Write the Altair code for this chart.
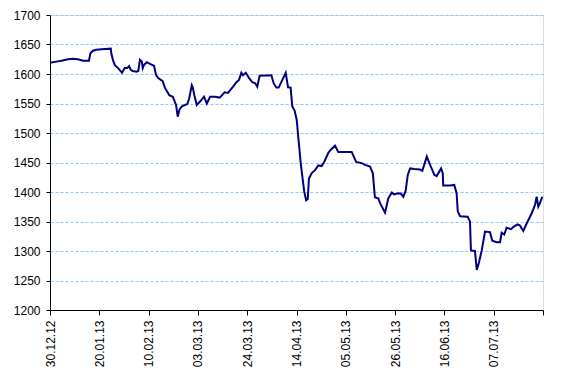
import altair as alt
import pandas as pd

# day offsets from 30.12.2012 and price values
day_offsets = [0.0, 2.7, 4.8, 7.7, 9.8, 11.9, 14.1, 16.6, 17.2, 18.3, 19.7, 21.9,
               25.9, 26.1, 26.8, 27.6, 29.0, 30.7, 31.8, 32.9, 33.7, 34.4, 35.2,
               36.9, 37.6, 38.3, 39.1, 39.5, 40.0, 41.2, 42.6, 44.3, 45.2, 46.1,
               48.0, 49.0, 50.1, 50.8, 52.3, 53.7, 54.4, 55.1, 56.1, 57.5, 58.5,
               59.3, 60.4, 60.8, 61.5, 62.5, 64.3, 65.6, 66.8, 68.2, 70.3, 72.3,
               74.4, 75.8, 78.0, 79.4, 80.5, 81.5, 82.2, 83.4, 84.8, 86.2, 87.5,
               88.3, 89.3, 94.3, 95.3, 96.4, 97.4, 100.4, 101.4, 102.5, 103.2,
               104.2, 105.1, 105.8, 106.8, 107.5, 108.3, 109.1, 109.8, 110.3,
               111.5, 112.9, 114.3, 115.7, 116.8, 118.6, 119.7, 121.4, 122.8,
               128.5, 130.4, 132.8, 134.2, 136.3, 137.5, 138.4, 139.9, 140.6,
               142.7, 144.1, 145.6, 146.5, 148.4, 149.5, 150.5, 151.5, 152.4,
               153.4, 155.2, 157.6, 158.6, 160.5, 161.9, 163.7, 164.7, 166.6,
               167.3, 167.5, 170.4, 172.2, 173.2, 173.7, 174.7, 177.9, 178.9,
               179.3, 181.0, 181.8, 182.7, 183.9, 185.3, 187.4, 188.4, 190.3,
               191.7, 192.4, 193.5, 194.5, 196.4, 197.4, 199.2, 200.2, 201.6,
               203.1, 205.2, 206.6, 207.3, 208.0, 208.7, 209.7]
prices = [1619, 1621, 1622.5, 1625, 1626, 1625, 1622.5, 1622.5, 1635, 1639.5, 1641, 1642,
          1643, 1635, 1624, 1615, 1610, 1602, 1610, 1610, 1613.5, 1607, 1605,
          1604, 1605, 1624, 1621, 1610, 1615, 1620, 1617, 1614, 1598, 1593,
          1588, 1576, 1569, 1564, 1561.5, 1547.5, 1527.6, 1539, 1545, 1547.5, 1549,
          1559, 1581, 1577.5, 1564, 1547.5, 1555, 1561.5, 1550, 1561.5, 1561.5, 1560,
          1569, 1568, 1578.5, 1586, 1590, 1602, 1598, 1602, 1593, 1586, 1584,
          1578.5, 1597, 1598, 1584, 1577, 1577, 1602, 1577.5, 1577, 1545,
          1538, 1522, 1491, 1449, 1426, 1400.5, 1386, 1388, 1423,
          1432, 1437, 1445, 1444, 1451, 1467, 1472, 1478.5, 1468,
          1468, 1451, 1449, 1446, 1443, 1432, 1391, 1389, 1381,
          1365, 1389, 1399, 1396, 1398, 1397, 1392, 1402, 1429,
          1440, 1439, 1438, 1436, 1460, 1446, 1429, 1427, 1440,
          1432, 1411, 1411, 1412, 1398, 1367, 1359, 1358, 1350,
          1301, 1300, 1268, 1280, 1301, 1333, 1332, 1317.5, 1315,
          1315, 1331, 1328, 1339.5, 1337, 1341, 1345, 1343, 1334,
          1347, 1364, 1378, 1392, 1375, 1381, 1392]

tick_dates = ["2012-12-30", "2013-01-20", "2013-02-10", "2013-03-03", "2013-03-24",
              "2013-04-14", "2013-05-05", "2013-05-26", "2013-06-16", "2013-07-07",
              "2013-07-28"]
y_ticks = [1200, 1250, 1300, 1350, 1400, 1450, 1500, 1550, 1600, 1650, 1700]

base = pd.Timestamp("2012-12-30")
df = pd.DataFrame({
    "date": base + pd.to_timedelta(day_offsets, unit="D"),
    "price": prices,
})

tick_vals = []
for s in tick_dates:
    t = pd.Timestamp(s)
    tick_vals.append(alt.DateTime(year=t.year, month=t.month, date=t.day))

chart = alt.Chart(df).mark_line(color="#000080", strokeWidth=2).encode(
    x=alt.X("date:T",
            scale=alt.Scale(domain=[alt.DateTime(year=2012, month=12, date=30),
                                    alt.DateTime(year=2013, month=7, date=28)],
                            nice=False),
            axis=alt.Axis(values=tick_vals, title=None, grid=False,
                          labelAngle=-90,
                          labelExpr="datum.value > datetime(2013, 6, 20) ? '' : timeFormat(datum.value, '%d.%m.%y')",
                          tickSize=5, labelPadding=5, domainColor="black",
                          tickColor="black", labelColor="black",
                          labelFont="Liberation Sans", labelFontSize=12,
                          labelOverlap=False)),
    y=alt.Y("price:Q",
            scale=alt.Scale(domain=[1200, 1700], nice=False, zero=False),
            axis=alt.Axis(values=y_ticks, title=None, grid=True, format="d",
                          gridColor="#8CC8FF", gridDash=[3, 2], gridWidth=1,
                          tickSize=4, labelPadding=6, domainColor="black",
                          tickColor="black", labelColor="black",
                          labelFont="Liberation Sans", labelFontSize=12)),
).properties(
    width=493, height=295,
    autosize=alt.AutoSizeParams(type="none"),
    padding={"left": 42, "top": 7, "right": 10, "bottom": 60},
).configure_view(strokeWidth=0).configure(background="white")

chart.save("out.html", embed_options={"renderer": "svg", "actions": False})
